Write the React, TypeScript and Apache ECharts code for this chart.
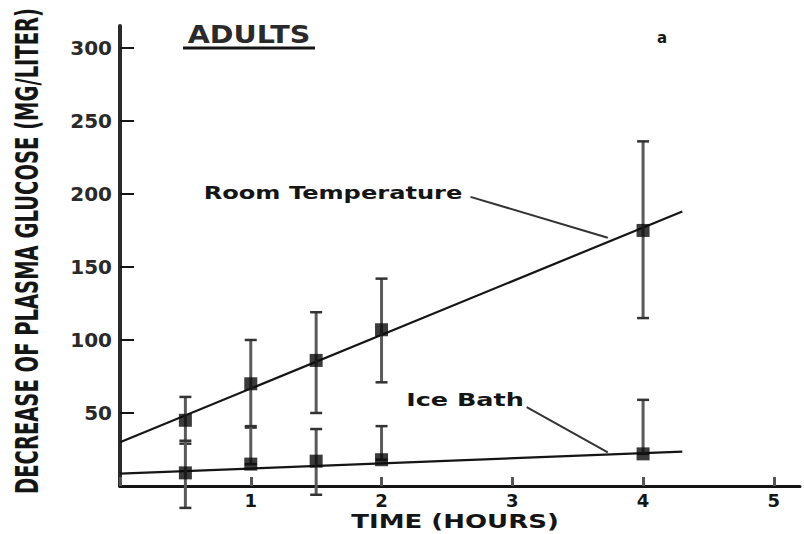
import React, { useEffect, useRef } from "react";
import * as echarts from "echarts";

// Sampling times (hours)
const hours = [0.5, 1, 1.5, 2, 4];

// Room temperature: mean decrease and error-bar bounds (mg/liter)
const roomMean = [45, 70, 86, 107, 175];
const roomLow = [29, 40, 50, 71, 115];
const roomHigh = [61, 100, 119, 142, 236];

// Ice bath: mean decrease and error-bar bounds (mg/liter)
const iceMean = [9, 15, 17, 18, 22];
const iceLow = [-15, 15, -6, 18, 22];
const iceHigh = [31, 41, 39, 41, 59];

// Fitted regression lines [hours, mg/liter]
const roomFit = [
  [0, 30],
  [4.3, 188],
];
const iceFit = [
  [0, 8.5],
  [4.3, 23.5],
];

// Leader lines from the annotations to the fitted lines
const roomLeader = [
  [2.68, 198],
  [3.73, 170],
];
const iceLeader = [
  [3.11, 54],
  [3.73, 23],
];

const xTicks = [0, 1, 2, 3, 4, 5];
const xLabels = [1, 2, 3, 4, 5];
const yTicks = [0, 50, 100, 150, 200, 250, 300];
const yLabels = [50, 100, 150, 200, 250, 300];

const FONT = "DejaVu Sans";
const INK = "#151515";

function errorBars(low: number[], high: number[], name: string) {
  const data = hours.map((h, i) => [h, low[i], high[i]]);
  return {
    type: "custom",
    name,
    clip: false,
    z: 3,
    data,
    renderItem: (_params: any, api: any) => {
      const x = api.value(0);
      const lo = api.coord([x, api.value(1)]);
      const hi = api.coord([x, api.value(2)]);
      const cap = 6;
      const children: any[] = [
        {
          type: "line",
          shape: { x1: lo[0], y1: lo[1], x2: hi[0], y2: hi[1] },
          style: { stroke: "#5a5a5a", lineWidth: 3 },
        },
        {
          type: "line",
          shape: { x1: hi[0] - cap, y1: hi[1], x2: hi[0] + cap, y2: hi[1] },
          style: { stroke: "#333", lineWidth: 2.5 },
        },
      ];
      if (lo[1] - hi[1] > 0) {
        children.push({
          type: "line",
          shape: { x1: lo[0] - cap, y1: lo[1], x2: lo[0] + cap, y2: lo[1] },
          style: { stroke: "#333", lineWidth: 2.5 },
        });
      }
      return { type: "group", children };
    },
  };
}

export default function App() {
  const ref = useRef<HTMLDivElement>(null);

  useEffect(() => {
    if (!ref.current) return;
    const chart = echarts.init(ref.current, null, { renderer: "svg" });

    const option: any = {
      animation: false,
      backgroundColor: "#ffffff",
      grid: { left: 120, right: 4, top: 26, bottom: 48 },
      xAxis: {
        type: "value",
        min: xTicks[0],
        max: 5.2,
        interval: 1,
        axisLine: { show: true, onZero: false, lineStyle: { color: INK, width: 3 } },
        axisTick: {
          show: true,
          inside: true,
          length: 9,
          customValues: xTicks,
          lineStyle: { color: "#555", width: 3 },
        },
        axisLabel: {
          color: INK,
          fontFamily: FONT,
          fontWeight: "bold",
          fontSize: 18,
          margin: 5,
          customValues: xLabels,
        },
        splitLine: { show: false },
      },
      yAxis: {
        type: "value",
        min: yTicks[0],
        max: 315,
        interval: 50,
        axisLine: { show: true, onZero: false, lineStyle: { color: "#2a2a2a", width: 4 } },
        axisTick: {
          show: true,
          inside: true,
          length: 14,
          customValues: yTicks,
          lineStyle: { color: INK, width: 2 },
        },
        axisLabel: {
          color: "#2a2a2a",
          fontFamily: FONT,
          fontWeight: "bold",
          fontSize: 20,
          margin: 8,
          customValues: yLabels,
        },
        splitLine: { show: false },
      },
      series: [
        {
          type: "line",
          name: "Room Temperature fit",
          data: roomFit,
          symbol: "none",
          z: 2,
          lineStyle: { color: INK, width: 2.2 },
        },
        {
          type: "line",
          name: "Ice Bath fit",
          data: iceFit,
          symbol: "none",
          z: 2,
          lineStyle: { color: INK, width: 2.2 },
        },
        {
          type: "line",
          name: "Room Temperature leader",
          data: roomLeader,
          symbol: "none",
          z: 2,
          lineStyle: { color: "#333", width: 2 },
        },
        {
          type: "line",
          name: "Ice Bath leader",
          data: iceLeader,
          symbol: "none",
          z: 2,
          lineStyle: { color: "#333", width: 2 },
        },
        errorBars(roomLow, roomHigh, "Room Temperature error"),
        errorBars(iceLow, iceHigh, "Ice Bath error"),
        {
          type: "scatter",
          name: "Room Temperature",
          data: hours.map((h, i) => [h, roomMean[i]]),
          symbol: "rect",
          symbolSize: 13,
          z: 5,
          itemStyle: { color: "#0a0a0a" },
        },
        {
          type: "scatter",
          name: "Ice Bath",
          data: hours.map((h, i) => [h, iceMean[i]]),
          symbol: "rect",
          symbolSize: 13,
          z: 5,
          itemStyle: { color: "#0a0a0a" },
        },
      ],
      graphic: [
        {
          type: "text",
          x: 249,
          y: 35,
          scaleX: 1.19,
          style: {
            text: "ADULTS",
            fontFamily: FONT,
            fontWeight: "bold",
            fontSize: 24,
            fill: "#2a2a2a",
            textAlign: "center",
            textVerticalAlign: "middle",
          },
        },
        {
          type: "line",
          shape: { x1: 183, y1: 48, x2: 315, y2: 48 },
          style: { stroke: INK, lineWidth: 3 },
        },
        {
          type: "text",
          x: 662,
          y: 38,
          style: {
            text: "a",
            fontFamily: FONT,
            fontWeight: "bold",
            fontSize: 15,
            fill: INK,
            textAlign: "center",
            textVerticalAlign: "middle",
          },
        },
        {
          type: "text",
          x: 333,
          y: 193,
          scaleX: 1.42,
          style: {
            text: "Room Temperature",
            fontFamily: FONT,
            fontWeight: "bold",
            fontSize: 17,
            fill: INK,
            textAlign: "center",
            textVerticalAlign: "middle",
          },
        },
        {
          type: "text",
          x: 465,
          y: 400,
          scaleX: 1.5,
          style: {
            text: "Ice Bath",
            fontFamily: FONT,
            fontWeight: "bold",
            fontSize: 17,
            fill: INK,
            textAlign: "center",
            textVerticalAlign: "middle",
          },
        },
        {
          type: "text",
          x: 455,
          y: 521,
          scaleX: 1.3,
          style: {
            text: "TIME (HOURS)",
            fontFamily: FONT,
            fontWeight: "bold",
            fontSize: 20,
            fill: INK,
            textAlign: "center",
            textVerticalAlign: "middle",
          },
        },
        {
          type: "text",
          x: 27,
          y: 251,
          rotation: Math.PI / 2,
          scaleX: 0.61,
          style: {
            text: "DECREASE OF PLASMA GLUCOSE (MG/LITER)",
            fontFamily: FONT,
            fontWeight: "bold",
            fontSize: 32,
            fill: INK,
            textAlign: "center",
            textVerticalAlign: "middle",
          },
        },
      ],
    };

    chart.setOption(option);
    return () => chart.dispose();
  }, []);

  return (
    <div
      ref={ref}
      style={{ position: "fixed", left: 0, top: 0, width: 804, height: 534, background: "#fff" }}
    />
  );
}
